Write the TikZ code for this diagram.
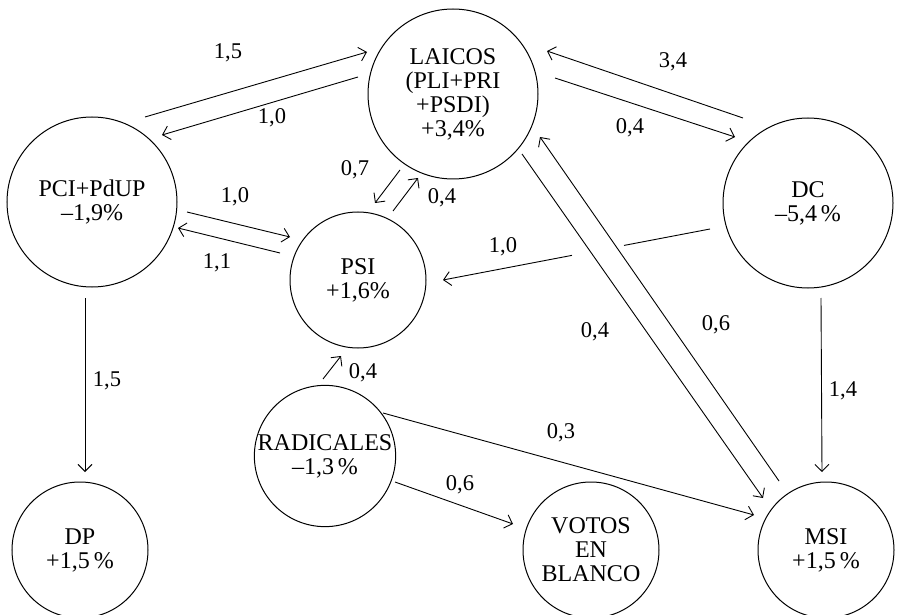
\documentclass[tikz,border=0pt]{standalone}
\usepackage{fontspec}
\setmainfont{Liberation Serif}
\usetikzlibrary{arrows.meta,calc}
\begin{document}
\begin{tikzpicture}[x=1pt,y=-1pt,
 party/.style={circle,draw,line width=1pt,inner sep=0pt,align=center,font=\fontsize{24}{24}\selectfont},
 big/.style={party,minimum size=170pt},
 small/.style={party,minimum size=136pt},
 flow/.style={line width=0.9pt,-{Straight Barb[length=7pt,width=14pt,line width=0.9pt]}},
 plain/.style={line width=0.9pt},
 lab/.style={font=\fontsize{22.5}{24}\selectfont,inner sep=0pt}]
\useasboundingbox (0,0) rectangle (898,615);
% parties
\node[big]   (laicos) at (453,94)  {LAICOS\\(PLI+PRI\\+PSDI)\\+3,4\%};
\node[big]   (pci)    at (92,202)  {PCI+PdUP\\\textendash1,9\%};
\node[big]   (dc)     at (808,203) {DC\\\textendash5,4\,\%};
\node[small] (psi)    at (358,280) {PSI\\+1,6\%};
\node[small] (rad)    at (325,456) {RADICALES\\\textendash1,3\,\%};
\node[small] (dp)     at (80,550)  {DP\\+1,5\,\%};
\node[small] (votos)  at (591,550) {VOTOS\\EN\\BLANCO};
\node[small] (msi)    at (826,550) {MSI\\+1,5\,\%};
% connector end points
\coordinate (a1) at ($(pci.center)+(53,-85)$);
\coordinate (b1) at ($(laicos.center)+(-86,-42)$);
\coordinate (a2) at ($(laicos.center)+(-95,-17)$);
\coordinate (b2) at ($(pci.center)+(70,-67)$);
\coordinate (a3) at ($(laicos.center)+(102,-16)$);
\coordinate (b3) at ($(dc.center)+(-73,-66)$);
\coordinate (a4) at ($(dc.center)+(-65,-85)$);
\coordinate (b4) at ($(laicos.center)+(94,-43)$);
\coordinate (a5) at ($(laicos.center)+(-53,76)$);
\coordinate (b5) at ($(psi.center)+(17,-77)$);
\coordinate (a6) at ($(psi.center)+(35,-69)$);
\coordinate (b6) at ($(laicos.center)+(-35,84)$);
\coordinate (a7) at ($(pci.center)+(95,10)$);
\coordinate (b7) at ($(psi.center)+(-68,-43)$);
\coordinate (a8) at ($(psi.center)+(-78,-27)$);
\coordinate (b8) at ($(pci.center)+(86,26)$);
\coordinate (a9) at ($(dc.center)+(-98,26)$);
\coordinate (b9) at ($(psi.center)+(85,0)$);
\coordinate (a10) at ($(laicos.center)+(69,60)$);
\coordinate (b10) at ($(msi.center)+(-63,-52)$);
\coordinate (a11) at ($(msi.center)+(-47,-69)$);
\coordinate (b11) at ($(laicos.center)+(87,43)$);
\coordinate (a12) at ($(pci.center)+(-7,96)$);
\coordinate (b12) at ($(dp.center)+(5,-78)$);
\coordinate (a13) at ($(dc.center)+(13,95)$);
\coordinate (b13) at ($(msi.center)+(-4,-78)$);
\coordinate (a14) at ($(rad.center)+(-2,-77)$);
\coordinate (b14) at ($(psi.center)+(-17,76)$);
\coordinate (a15) at ($(rad.center)+(58,-43)$);
\coordinate (b15) at ($(msi.center)+(-72,-35)$);
\coordinate (a16) at ($(rad.center)+(70,26)$);
\coordinate (b16) at ($(votos.center)+(-78,-26)$);
% connectors
\draw[flow] (a1) -- (b1);
\draw[flow] (a2) -- (b2);
\draw[flow] (a3) -- (b3);
\draw[flow] (a4) -- (b4);
\draw[flow] (a5) -- (b5);
\draw[flow] (a6) -- (b6);
\draw[flow] (a7) -- (b7);
\draw[flow] (a8) -- (b8);
\draw[plain] (a9) -- ($(a9)!0.322!(b9)$);
\draw[flow] ($(a9)!0.517!(b9)$) -- (b9);
\draw[flow] (a10) -- (b10);
\draw[flow] (a11) -- (b11);
\draw[flow] (a12) -- (b12);
\draw[flow] (a13) -- (b13);
\draw[flow] (a14) -- (b14);
\draw[flow] (a15) -- (b15);
\draw[flow] (a16) -- (b16);
% labels
\node[lab] (l1)  at (228,53)  {1,5};
\node[lab] (l2)  at (272,118) {1,0};
\node[lab] (l3)  at (630,128) {0,4};
\node[lab] (l4)  at (673,62)  {3,4};
\node[lab] (l5)  at (355,170) {0,7};
\node[lab] (l6)  at (442,198) {0,4};
\node[lab] (l7)  at (235,197) {1,0};
\node[lab] (l8)  at (217,263) {1,1};
\node[lab] (l9)  at (503,247) {1,0};
\node[lab] (l10) at (595,332) {0,4};
\node[lab] (l11) at (716,325) {0,6};
\node[lab] (l12) at (107,381) {1,5};
\node[lab] (l13) at (843,391) {1,4};
\node[lab] (l14) at (363,373) {0,4};
\node[lab] (l15) at (561,433) {0,3};
\node[lab] (l16) at (460,485) {0,6};
\end{tikzpicture}
\end{document}
